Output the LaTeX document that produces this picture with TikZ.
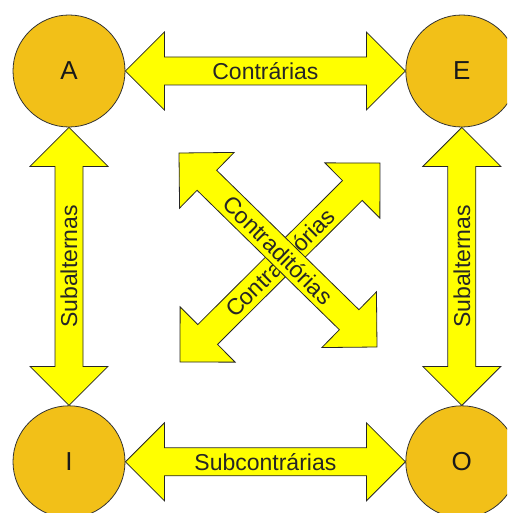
\documentclass[tikz,border=0pt]{standalone}
\usepackage{fontspec}
\setmainfont{Liberation Sans}
\usepackage{tikz}
\usetikzlibrary{positioning, calc}

\definecolor{termgold}{RGB}{242,192,24}
\definecolor{arrowyellow}{RGB}{255,255,0}

% double block arrow between two points, label along it
\newcommand{\relarrow}[3]{%
  \draw[relation] let \p1=(#1), \p2=(#2),
      \n1={atan2(\y2-\y1,\x2-\x1)}, \n2={veclen(\x2-\x1,\y2-\y1)} in
    [shift={(\p1)}, rotate=\n1]
    (0pt,0pt) -- (39pt,39pt) -- (39pt,14pt) -- ({\n2-39pt},14pt) -- ({\n2-39pt},39pt)
    -- ({\n2},0pt) -- ({\n2-39pt},-39pt) -- ({\n2-39pt},-14pt) -- (39pt,-14pt) -- (39pt,-39pt) -- cycle
    ({0.5*\n2},0pt) node[reltext, transform shape] {#3};
}

\begin{document}
\begin{tikzpicture}[
  x=1pt, y=-1pt,
  node distance=280pt,
  term/.style={circle, draw=black!80, fill=termgold, line width=0.8pt, minimum size=112pt,
    inner sep=0pt, font=\fontsize{26}{28}\selectfont, text=black!90},
  relation/.style={draw=black!85, fill=arrowyellow, line width=0.8pt, line join=miter},
  reltext/.style={font=\fontsize{23}{25}\selectfont, text=black!85, inner sep=0pt}
]
\useasboundingbox (0,0) rectangle (507,513);
\clip (0,0) rectangle (507,513);

% Terms of the square
\node[term] (A) at (69,71) {A};
\node[term, right=of A] (E) {E};
\node[term, below=278pt of A] (I) {I};
\node[term, right=of I] (O) {O};

% Free ends of the diagonals
\coordinate (dtl) at (179,153);
\coordinate (dbr) at (377,347);
\coordinate (dbl) at (180,362);
\coordinate (dtr) at (380,163);

% Sides
\relarrow{A.east}{E.west}{Contrárias}
\relarrow{I.east}{O.west}{Subcontrárias}
\relarrow{I.north}{A.south}{Subalternas}
\relarrow{O.north}{E.south}{Subalternas}

% Diagonals
\relarrow{dbl}{dtr}{Contraditórias}
\relarrow{dtl}{dbr}{Contraditórias}

\end{tikzpicture}
\end{document}
